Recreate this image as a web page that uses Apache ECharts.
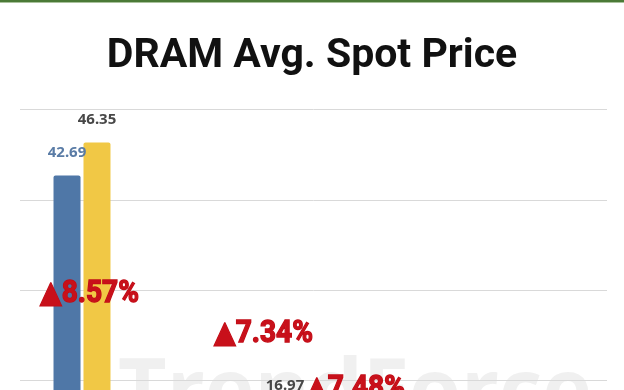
<!DOCTYPE html>
<html>
<head>
<meta charset="utf-8">
<script src="https://cdn.jsdelivr.net/npm/echarts@6/dist/echarts.min.js"></script>
<style>
html,body{margin:0;padding:0;background:#fff;}
#c{width:624px;height:390px;}
</style>
</head>
<body>
<div id="c"></div>
<script>
// ---- data ----
var categories = ['DDR4 16Gb (1Gx16) 3200', 'DDR4 8Gb (1Gx8) 3200', 'DDR5 16Gb (2Gx8) 4800/5600'];
var seriesNames = ['Previous Week', 'This Week'];
var previousWeek = [42.69, 15.81, 14.04];
var thisWeek = [46.35, 16.97, 15.09];
var changeLabels = ['8.57%', '7.34%', '7.48%'];
var yTicks = [0, 10, 20, 30, 40, 50];

// ---- layout (not data) ----
var annotationPos = [[40, 294], [214, 334], [306, 389]];

var chart = echarts.init(document.getElementById('c'), null, {renderer: 'canvas'});

var annGraphics = changeLabels.map(function (t, i) {
  return {
    type: 'text',
    x: annotationPos[i][0],
    y: annotationPos[i][1],
    scaleX: 0.97,
    scaleY: 1.05,
    z: 100,
    style: {
      text: '\u25B2' + t,
      fill: '#c8101a',
      stroke: '#c00c16',
      lineWidth: 1.3,
      font: 'bold 29px Roboto, "DejaVu Sans", sans-serif',
      verticalAlign: 'middle',
      align: 'left',
      shadowBlur: 3,
      shadowColor: 'rgba(60,0,0,0.45)',
      shadowOffsetX: 1,
      shadowOffsetY: 1
    }
  };
});

var option = {
  backgroundColor: '#ffffff',
  animation: false,
  title: {
    text: 'DRAM Avg. Spot Price',
    left: 'center',
    top: 31,
    textStyle: {
      fontFamily: 'Roboto, "Noto Sans", sans-serif',
      fontWeight: 'bold',
      fontSize: 41,
      color: '#111111'
    }
  },
  graphic: [
    {type: 'rect', shape: {x: 0, y: 0, width: 624, height: 2}, style: {fill: '#4b7a37'}, z: 50},
    {type: 'rect', shape: {x: 0, y: 2, width: 624, height: 1}, style: {fill: '#a9c29c'}, z: 50},
    {
      type: 'text', x: 118, y: 353, z: -10, zlevel: 0,
      style: {
        text: 'TrendForce',
        fill: '#f0f0f0',
        font: 'bold 84px "Open Sans", Roboto, sans-serif',
        verticalAlign: 'top'
      }
    }
  ].concat(annGraphics),
  grid: [
    {left: 20, right: 17, top: 109.5, height: 451.7, containLabel: false, outerBoundsMode: 'none'},
    {left: -12, width: 564, top: 109.5, height: 451.7, containLabel: false, outerBoundsMode: 'none'}
  ],
  xAxis: [
    {type: 'category', gridIndex: 0, data: categories, show: false},
    {
      type: 'category', gridIndex: 1, data: categories,
      axisLine: {show: false}, axisTick: {show: false},
      axisLabel: {show: true, color: '#555', fontSize: 13}
    }
  ],
  yAxis: [
    {
      type: 'value', gridIndex: 0, min: yTicks[0], max: yTicks[yTicks.length - 1], interval: 10,
      axisLine: {show: false}, axisTick: {show: false}, axisLabel: {show: false},
      splitLine: {show: true, lineStyle: {color: '#d9d9d9', width: 1}}
    },
    {
      type: 'value', gridIndex: 1, min: yTicks[0], max: yTicks[yTicks.length - 1], interval: 10,
      axisLine: {show: false}, axisTick: {show: false}, axisLabel: {show: false},
      splitLine: {show: false}
    }
  ],
  series: [
    {
      name: seriesNames[0], type: 'bar', xAxisIndex: 1, yAxisIndex: 1,
      data: previousWeek, barWidth: 27, barGap: '11%', z: 2,
      itemStyle: {color: '#4f77a7', borderRadius: [2, 2, 0, 0]},
      label: {
        show: true, position: 'top', distance: 15,
        color: '#5a7ca6', fontSize: 15, fontWeight: 'bold',
        fontFamily: '"Noto Sans", Roboto, sans-serif'
      }
    },
    {
      name: seriesNames[1], type: 'bar', xAxisIndex: 1, yAxisIndex: 1,
      data: thisWeek, barWidth: 27, barGap: '11%', z: 2,
      itemStyle: {color: '#f1c845', borderRadius: [2, 2, 0, 0]},
      label: {
        show: true, position: 'top', distance: 15,
        color: '#474747', fontSize: 15, fontWeight: 'bold',
        fontFamily: '"Noto Sans", Roboto, sans-serif'
      }
    }
  ]
};
chart.setOption(option);
</script>
</body>
</html>
